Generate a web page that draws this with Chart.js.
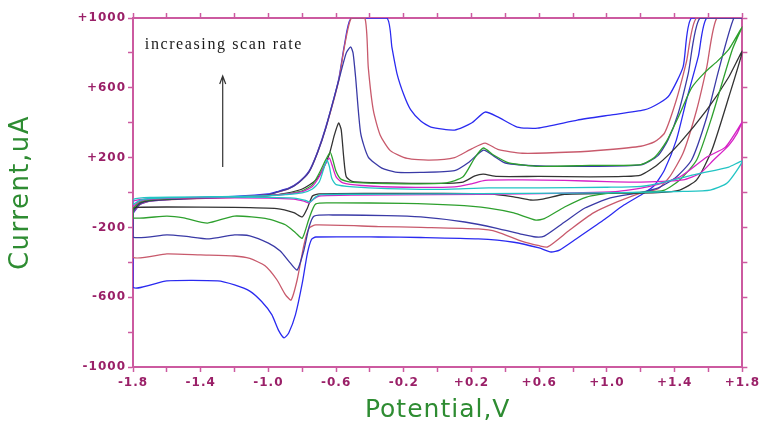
<!DOCTYPE html>
<html>
<head>
<meta charset="utf-8">
<script src="https://cdn.jsdelivr.net/npm/chart.js@4.4.1/dist/chart.umd.min.js"></script>
<style>
  html, body { margin: 0; padding: 0; background: #fff; }
</style>
</head>
<body>
<canvas id="cvChart" width="762" height="428"></canvas>
<script>
// tick labels (majors only, minors are blank)
const xTickLabels = ['-1.8', '-1.4', '-1.0', '-0.6', '-0.2', '+0.2', '+0.6', '+1.0', '+1.4', '+1.8']
const yTickLabels = ['-1000', '-600', '-200', '+200', '+600', '+1000']

// one loop per scan rate: [potential V, current uA], forward sweep then reverse sweep
const cyanLoop = [
  [-1.8, -70], [-1.76, -45], [-1.7, -35], [-1.5, -28], [-1.2, -22], [-1.0, -18], [-0.9, -12], [-0.8, -2],
  [-0.74, 20], [-0.7, 60], [-0.675, 130], [-0.655, 186], [-0.64, 150], [-0.625, 80], [-0.6, 45], [-0.5, 32],
  [-0.3, 22], [0, 18], [0.3, 26], [0.6, 26], [1.0, 30], [1.2, 35], [1.34, 60], [1.53, 105], [1.72, 146], [1.8, 180],
  [1.71, 54], [1.61, 14], [1.45, 6], [1.3, 3], [1.0, -2], [0.5, -5], [0, -8], [-0.5, -10], [-0.69, -12],
  [-0.72, -25], [-0.755, -55], [-0.78, -45], [-0.85, -32], [-1.0, -28], [-1.4, -25], [-1.7, -28], [-1.8, -40], [-1.8, -70]
]
const magentaLoop = [
  [-1.8, -80], [-1.76, -50], [-1.7, -38], [-1.5, -30], [-1.2, -24], [-1.0, -18], [-0.9, -10], [-0.8, 5],
  [-0.74, 35], [-0.7, 90], [-0.665, 160], [-0.64, 197], [-0.625, 160], [-0.6, 90], [-0.56, 55], [-0.45, 40],
  [-0.2, 30], [0.1, 32], [0.2, 50], [0.28, 70], [0.5, 72], [0.75, 70], [1.0, 62], [1.2, 60], [1.45, 72],
  [1.55, 110], [1.63, 186], [1.72, 270], [1.77, 340], [1.8, 404],
  [1.7, 260], [1.59, 203], [1.43, 89], [1.24, 32], [1.05, 5], [0.5, -8], [0, -12], [-0.5, -15], [-0.7, -20],
  [-0.73, -35], [-0.76, -60], [-0.79, -50], [-0.85, -38], [-1.0, -32], [-1.4, -30], [-1.7, -35], [-1.8, -50], [-1.8, -80]
]
const greenLoop = [
  [-1.8, -90], [-1.76, -55], [-1.7, -42], [-1.5, -32], [-1.2, -25], [-1.0, -18], [-0.9, -8], [-0.8, 10],
  [-0.74, 45], [-0.7, 110], [-0.66, 190], [-0.635, 230], [-0.62, 190], [-0.6, 120], [-0.57, 75], [-0.5, 58],
  [-0.2, 50], [0.05, 55], [0.15, 90], [0.22, 200], [0.27, 255], [0.33, 215], [0.42, 170], [0.6, 150], [0.9, 155],
  [1.2, 160], [1.28, 200], [1.35, 290], [1.43, 450], [1.5, 600], [1.58, 690], [1.65, 750], [1.72, 820], [1.8, 950],
  [1.74, 817], [1.62, 433], [1.53, 186], [1.43, 72], [1.34, 14], [1.2, 0], [1.02, -3], [0.88, -26], [0.75, -83],
  [0.63, -150], [0.58, -158], [0.45, -117], [0.3, -89], [0.1, -72], [-0.2, -62], [-0.6, -60], [-0.72, -65],
  [-0.76, -150], [-0.8, -262], [-0.84, -230], [-0.9, -185], [-1.0, -152], [-1.2, -135], [-1.36, -175],
  [-1.5, -145], [-1.6, -135], [-1.8, -146], [-1.8, -90]
]
const blackLoop = [
  [-1.8, -100], [-1.76, -60], [-1.7, -45], [-1.5, -34], [-1.2, -26], [-1.0, -18], [-0.9, -5], [-0.8, 20],
  [-0.72, 70], [-0.68, 130], [-0.64, 220], [-0.61, 330], [-0.585, 398], [-0.57, 360], [-0.555, 200], [-0.54, 90],
  [-0.5, 62], [-0.3, 55], [0, 52], [0.15, 60], [0.22, 95], [0.27, 105], [0.35, 92], [0.6, 92], [0.9, 90],
  [1.1, 92], [1.2, 100], [1.3, 160], [1.43, 283], [1.59, 473], [1.72, 662], [1.8, 810],
  [1.72, 547], [1.62, 243], [1.53, 72], [1.43, 14], [1.3, 0], [1.0, -5], [0.75, -10], [0.62, -38], [0.55, -43],
  [0.45, -25], [0.3, -8], [0, -5], [-0.4, -5], [-0.7, -8], [-0.74, -20], [-0.77, -90], [-0.8, -140],
  [-0.85, -115], [-0.95, -92], [-1.2, -85], [-1.6, -83], [-1.78, -85], [-1.8, -90], [-1.8, -100]
]
const navyLoop = [
  [-1.8, -110], [-1.76, -65], [-1.7, -48], [-1.5, -36], [-1.2, -26], [-1.0, -12], [-0.95, 2], [-0.88, 22],
  [-0.82, 58], [-0.76, 118], [-0.71, 228], [-0.66, 372], [-0.585, 640], [-0.54, 800], [-0.514, 834], [-0.5, 800],
  [-0.485, 662], [-0.455, 340], [-0.41, 203], [-0.33, 140], [-0.25, 117], [-0.1, 115], [0.1, 125], [0.18, 170],
  [0.27, 243], [0.33, 210], [0.4, 169], [0.6, 152], [0.9, 150], [1.2, 158], [1.3, 210], [1.36, 300], [1.42, 450],
  [1.48, 680], [1.55, 1000], [1.8, 1000],
  [1.75, 1000], [1.66, 700], [1.59, 433], [1.5, 186], [1.41, 89], [1.3, 25], [1.18, -3], [1.02, -31], [0.87, -89],
  [0.75, -169], [0.63, -250], [0.58, -255], [0.5, -240], [0.35, -205], [0.16, -169], [-0.1, -140], [-0.3, -132],
  [-0.6, -129], [-0.73, -135], [-0.76, -198], [-0.79, -330], [-0.83, -444], [-0.87, -405], [-0.93, -335],
  [-1.0, -290], [-1.11, -248], [-1.2, -243], [-1.35, -266], [-1.5, -250], [-1.6, -243], [-1.8, -255], [-1.8, -110]
]
const redLoop = [
  [-1.8, -115], [-1.76, -68], [-1.7, -50], [-1.5, -38], [-1.2, -28], [-1.0, -12], [-0.95, 0], [-0.88, 22],
  [-0.82, 58], [-0.76, 118], [-0.71, 228], [-0.66, 372], [-0.585, 640], [-0.55, 840], [-0.51, 1000], [-0.43, 1000],
  [-0.41, 717], [-0.38, 470], [-0.34, 330], [-0.28, 240], [-0.18, 195], [-0.05, 186], [0.1, 200], [0.2, 250],
  [0.28, 283], [0.36, 245], [0.5, 225], [0.8, 232], [1.0, 245], [1.2, 265], [1.28, 290], [1.34, 340], [1.41, 530],
  [1.47, 750], [1.53, 1000], [1.8, 1000],
  [1.65, 1000], [1.59, 720], [1.53, 473], [1.45, 226], [1.37, 89], [1.3, 20], [1.2, -3], [1.06, -54], [0.92, -117],
  [0.78, -215], [0.65, -312], [0.6, -305], [0.5, -280], [0.35, -225], [0.24, -209], [-0.1, -200], [-0.35, -195],
  [-0.72, -186], [-0.76, -205], [-0.79, -300], [-0.83, -500], [-0.866, -616], [-0.9, -585], [-0.95, -500],
  [-1.02, -420], [-1.11, -378], [-1.2, -364], [-1.4, -358], [-1.6, -352], [-1.8, -370], [-1.8, -115]
]
const blueLoop = [
  [-1.8, -120], [-1.76, -70], [-1.7, -50], [-1.5, -35], [-1.2, -22], [-1.0, -8], [-0.95, 5], [-0.88, 25],
  [-0.82, 60], [-0.76, 122], [-0.71, 232], [-0.66, 378], [-0.585, 648], [-0.55, 850], [-0.51, 1000], [-0.3, 1000],
  [-0.27, 830], [-0.24, 680], [-0.2, 560], [-0.16, 475], [-0.1, 410], [-0.04, 375], [0.1, 358], [0.2, 398],
  [0.28, 461], [0.355, 433], [0.47, 375], [0.59, 369], [0.825, 415], [1.02, 444], [1.22, 473], [1.31, 513],
  [1.37, 560], [1.45, 720], [1.5, 1000], [1.8, 1000],
  [1.59, 1000], [1.54, 780], [1.47, 530], [1.41, 300], [1.34, 129], [1.28, 40], [1.22, -3], [1.1, -72],
  [0.98, -158], [0.82, -265], [0.72, -330], [0.67, -341], [0.6, -318], [0.45, -285], [0.24, -266], [-0.1, -258],
  [-0.35, -255], [-0.72, -255], [-0.745, -268], [-0.77, -350], [-0.8, -520], [-0.84, -700], [-0.88, -805],
  [-0.907, -833], [-0.94, -790], [-0.98, -700], [-1.04, -625], [-1.11, -565], [-1.2, -530], [-1.3, -507],
  [-1.6, -507], [-1.8, -542], [-1.8, -120]
]

const loops = [cyanLoop, magentaLoop, greenLoop, blackLoop, navyLoop, redLoop, blueLoop]
const loopColors = ['#22c4c4', '#d622c6', '#2ea02e', '#333333', '#3a3aa6', '#c85a6c', '#2a2af0']

const axisColor = '#cc5aa0'
const tickTextColor = '#9a2068'
const titleColor = '#2e8c32'

function toPoints(pairs) {
    const pts = []
    for (let index = 0; index < pairs.length; index++) {
        pts.push({ x: pairs[index][0], y: pairs[index][1] })
    }
    return pts
}

function xLabel(value) {
    const i = Math.round((value + 1.8) / 0.2)
    return i % 2 === 0 ? xTickLabels[i / 2] : ''
}

function yLabel(value) {
    const i = Math.round((value + 1000) / 200)
    return i % 2 === 0 ? yTickLabels[i / 2] : ''
}

// labels drawn on top: note, arrow, axis titles
const cvLabels = {
    id: 'cvLabels',
    beforeDraw(chart) {
        chart.ctx.letterSpacing = '1px'
    },
    afterDraw(chart) {
        const { ctx, scales, chartArea } = chart
        const x = scales.x, y = scales.y
        ctx.save()
        ctx.fillStyle = '#1a1a1a'
        ctx.font = '16px "Liberation Serif", "DejaVu Serif", serif'
        ctx.letterSpacing = '1.6px'
        ctx.textAlign = 'left'
        ctx.textBaseline = 'middle'
        ctx.fillText('increasing scan rate', x.getPixelForValue(-1.73), y.getPixelForValue(845))

        const ax = x.getPixelForValue(-1.27)
        const y0 = y.getPixelForValue(146), y1 = y.getPixelForValue(668)
        ctx.strokeStyle = '#333'
        ctx.lineWidth = 1.2
        ctx.beginPath()
        ctx.moveTo(ax, y0); ctx.lineTo(ax, y1)
        ctx.moveTo(ax - 3, y1 + 8); ctx.lineTo(ax, y1); ctx.lineTo(ax + 3, y1 + 8)
        ctx.stroke()

        ctx.fillStyle = titleColor
        ctx.font = '25px "DejaVu Sans", Verdana, sans-serif'
        ctx.letterSpacing = '1px'
        ctx.textAlign = 'center'
        ctx.fillText('Potential,V', (chartArea.left + chartArea.right) / 2, chartArea.bottom + 43)
        ctx.translate(21, (chartArea.top + chartArea.bottom) / 2)
        ctx.rotate(-Math.PI / 2)
        ctx.font = '26px "DejaVu Sans", Verdana, sans-serif'
        ctx.letterSpacing = '1.5px'
        ctx.fillText('Current,uA', 0, 0)
        ctx.restore()
    }
}

function axis(position, isX, showLabels, size) {
    return {
        type: 'linear',
        position: position,
        min: isX ? -1.8 : -1000,
        max: isX ? 1.8 : 1000,
        ticks: {
            display: showLabels,
            stepSize: isX ? 0.2 : 200,
            autoSkip: false,
            maxRotation: 0,
            padding: isX ? 4 : 2,
            color: tickTextColor,
            font: { family: 'DejaVu Sans', size: 12, weight: 'bold' },
            callback: isX ? xLabel : yLabel
        },
        grid: { drawOnChartArea: false, tickLength: 5, tickColor: axisColor, tickWidth: 1.5 },
        border: { color: axisColor, width: 2 },
        afterFit(scale) {
            if (isX) scale.height = size
            else scale.width = size
        }
    }
}

const datasets = loops.map(function (loop, i) {
    return {
        label: 'scan ' + (i + 1),
        data: toPoints(loop),
        showLine: true,
        borderColor: loopColors[i],
        borderWidth: 1.3,
        pointRadius: 0,
        tension: 0.2
    }
})

new Chart(document.getElementById('cvChart'), {
    type: 'scatter',
    data: { datasets: datasets },
    options: {
        responsive: false,
        animation: false,
        layout: { padding: 0 },
        plugins: { legend: { display: false }, tooltip: { enabled: false } },
        scales: {
            x: axis('bottom', true, true, 61),
            x2: axis('top', true, false, 18),
            y: axis('left', false, true, 133),
            y2: axis('right', false, false, 16)
        }
    },
    plugins: [cvLabels]
})
</script>
</body>
</html>
